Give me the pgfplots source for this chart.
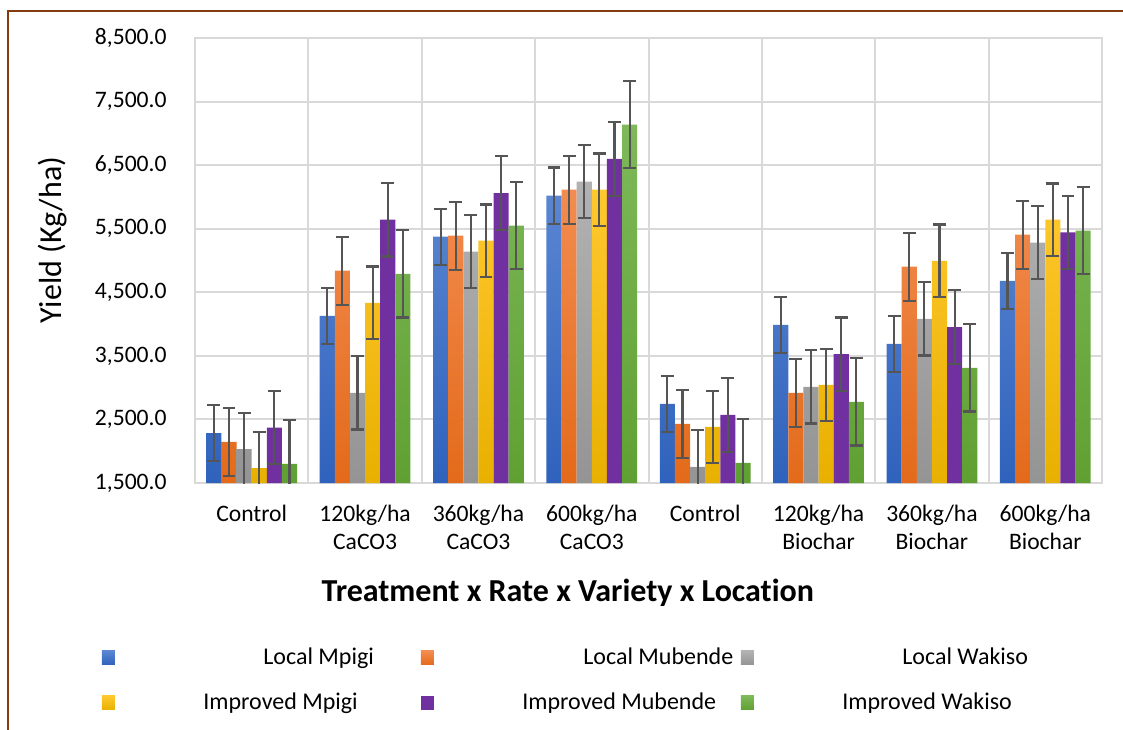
\documentclass[border=0pt]{standalone}
\usepackage{pgfplots}
\usepackage{pgfplotstable}
\pgfplotsset{compat=1.18}
\usepackage{fontspec}
\setmainfont[Ligatures={NoCommon}]{Carlito}
\definecolor{gridgray}{HTML}{D9D9D9}
\definecolor{errgray}{HTML}{555555}
\definecolor{frame}{HTML}{843C0C}
\definecolor{cblueT}{HTML}{5A86D2}
\definecolor{cblueB}{HTML}{2F62BC}
\definecolor{corangeT}{HTML}{F28C50}
\definecolor{corangeB}{HTML}{E36A1A}
\definecolor{cgrayT}{HTML}{B2B2B2}
\definecolor{cgrayB}{HTML}{949494}
\definecolor{cyellowT}{HTML}{FFC82E}
\definecolor{cyellowB}{HTML}{E8B000}
\definecolor{cpurple}{HTML}{7030A0}
\definecolor{cgreenT}{HTML}{7EB95A}
\definecolor{cgreenB}{HTML}{60A032}

\pgfplotstableread{
x LM   LMe LMu  LMue LW   LWe IM   IMe IMu  IMue IW   IWe
0 2283 442 2146 536  2031 576 1736 570 2371 578  1799 686
1 4130 442 4839 536  2917 576 4335 570 5642 578  4791 686
2 5374 442 5390 536  5138 576 5311 570 6061 578  5547 686
3 6020 442 6114 536  6240 576 6114 570 6598 578  7138 686
4 2744 442 2429 536  1752 576 2382 570 2571 578  1815 686
5 3988 442 2917 536  3012 576 3043 570 3526 578  2776 686
6 3689 442 4902 536  4083 576 4996 570 3952 578  3311 686
7 4681 442 5406 536  5280 576 5642 570 5442 578  5469 686
}\data

\begin{document}
\begin{tikzpicture}
\useasboundingbox (0,0) rectangle (561.5bp,-365bp);
\begin{axis}[
  at={(97.5bp,-241.5bp)}, anchor=south west,
  scale only axis, width=453.5bp, height=222.5bp,
  xmin=-0.5, xmax=7.5, ymin=1500, ymax=8500,
  ytick={1500,2500,...,8500},
  xtick={0,...,7},
  xticklabels={Control,{120kg/ha\\CaCO3},{360kg/ha\\CaCO3},{600kg/ha\\CaCO3},Control,{120kg/ha\\Biochar},{360kg/ha\\Biochar},{600kg/ha\\Biochar}},
  minor xtick={0.5,1.5,...,6.5},
  xminorgrids=true, ymajorgrids=true,
  grid style={draw=gridgray, line width=1bp},
  minor grid style={draw=gridgray, line width=1bp},
  axis line style={draw=gridgray, line width=1bp},
  major tick length=0pt, minor tick length=0pt,
  tick style={draw=none},
  ybar, bar width=7.56bp,
  /pgf/number format/assume math mode=true,
  y tick label style={/pgf/number format/fixed, /pgf/number format/fixed zerofill, /pgf/number format/precision=1, /pgf/number format/1000 sep={,}},
  yticklabel style={anchor=east, inner sep=0pt, xshift=-14bp, font=\fontsize{11.8bp}{13bp}\selectfont},
  xticklabel style={anchor=north, inner sep=0pt, yshift=-11bp, align=center, font=\fontsize{11.8bp}{14bp}\selectfont},
  ylabel={Yield (Kg/ha)},
  ylabel style={at={(axis description cs:-0.1566,0.546)}, anchor=center, rotate=0, font=\fontsize{16bp}{18bp}\selectfont},
  xlabel={Treatment x Rate x Variety x Location},
  xlabel style={at={(axis description cs:0.411,-0.246)}, anchor=center, font=\bfseries\fontsize{16bp}{18bp}\selectfont},
  eb/.style={draw=none, fill=none, forget plot, error bars/.cd, y dir=both, y explicit,
     error mark=-,
     error bar style={line width=1.1bp, draw=errgray, solid},
     error mark options={rotate=90, line width=1.1bp, draw=errgray, mark size=3.2bp, solid}},
]
\addplot[draw=none, bar shift=-18.9bp, top color=cblueT, bottom color=cblueB] table[x=x, y=LM] {\data};
\addplot[draw=none, bar shift=-11.34bp, top color=corangeT, bottom color=corangeB] table[x=x, y=LMu] {\data};
\addplot[draw=none, bar shift=-3.78bp, top color=cgrayT, bottom color=cgrayB] table[x=x, y=LW] {\data};
\addplot[draw=none, bar shift=3.78bp, top color=cyellowT, bottom color=cyellowB] table[x=x, y=IM] {\data};
\addplot[draw=none, bar shift=11.34bp, fill=cpurple] table[x=x, y=IMu] {\data};
\addplot[draw=none, bar shift=18.9bp, top color=cgreenT, bottom color=cgreenB] table[x=x, y=IW] {\data};
\addplot[bar shift=-18.9bp, eb] table[x=x, y=LM, y error=LMe] {\data};
\addplot[bar shift=-11.34bp, eb] table[x=x, y=LMu, y error=LMue] {\data};
\addplot[bar shift=-3.78bp, eb] table[x=x, y=LW, y error=LWe] {\data};
\addplot[bar shift=3.78bp, eb] table[x=x, y=IM, y error=IMe] {\data};
\addplot[bar shift=11.34bp, eb] table[x=x, y=IMu, y error=IMue] {\data};
\addplot[bar shift=18.9bp, eb] table[x=x, y=IW, y error=IWe] {\data};
\end{axis}
\begin{scope}[x=0.5bp, y=-0.5bp]
\draw[frame, line width=1bp] (8,731) -- (8,11) -- (1124,11);
\tikzset{lt/.style={anchor=base west, inner sep=0pt, font=\fontsize{12bp}{14bp}\selectfont}}
\fill[top color=cblueT, bottom color=cblueB] (102,651) rectangle (115,665);
\node[lt] at (263,665) {Local Mpigi};
\fill[top color=corangeT, bottom color=corangeB] (421,651) rectangle (434,665);
\node[lt] at (583,665) {Local Mubende};
\fill[top color=cgrayT, bottom color=cgrayB] (741,651) rectangle (754,665);
\node[lt] at (902,665) {Local Wakiso};
\fill[top color=cyellowT, bottom color=cyellowB] (102,696) rectangle (115,710);
\node[lt] at (203,710) {Improved Mpigi};
\fill[cpurple] (421,696) rectangle (434,710);
\node[lt] at (522,710) {Improved Mubende};
\fill[top color=cgreenT, bottom color=cgreenB] (741,696) rectangle (754,710);
\node[lt] at (842,710) {Improved Wakiso};
\end{scope}
\end{tikzpicture}
\end{document}
